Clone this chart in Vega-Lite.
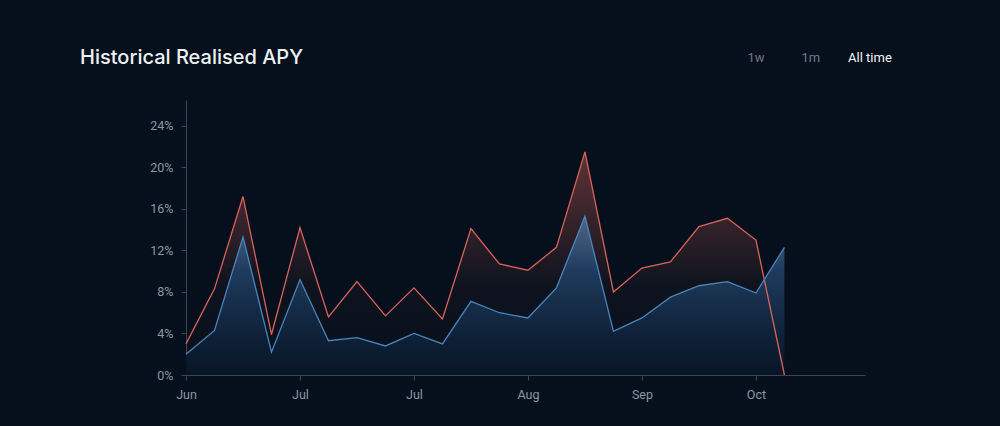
{
  "$schema": "https://vega.github.io/schema/vega-lite/v6.json",
  "width": 679,
  "height": 275,
  "autosize": "none",
  "padding": {"left": 186, "top": 100, "right": 135, "bottom": 51},
  "background": "#06101c",
  "config": {"view": {"stroke": null}, "font": "Roboto"},
  "title": {
    "text": "Historical Realised APY",
    "anchor": "start",
    "frame": "group",
    "color": "#eef0f3",
    "font": "Inter",
    "fontSize": 20,
    "fontWeight": 500,
    "dx": -106,
    "offset": 0,
    "dy": 32,
    "baseline": "alphabetic"
  },
  "datasets": {
    "apy": [
      {"date": "2023-06-03", "series": "Projected", "apy": 3.0},
      {"date": "2023-06-10", "series": "Projected", "apy": 8.3},
      {"date": "2023-06-17", "series": "Projected", "apy": 17.2},
      {"date": "2023-06-24", "series": "Projected", "apy": 3.9},
      {"date": "2023-07-01", "series": "Projected", "apy": 14.2},
      {"date": "2023-07-08", "series": "Projected", "apy": 5.6},
      {"date": "2023-07-15", "series": "Projected", "apy": 9.0},
      {"date": "2023-07-22", "series": "Projected", "apy": 5.7},
      {"date": "2023-07-29", "series": "Projected", "apy": 8.4},
      {"date": "2023-08-05", "series": "Projected", "apy": 5.4},
      {"date": "2023-08-12", "series": "Projected", "apy": 14.1},
      {"date": "2023-08-19", "series": "Projected", "apy": 10.7},
      {"date": "2023-08-26", "series": "Projected", "apy": 10.1},
      {"date": "2023-09-02", "series": "Projected", "apy": 12.3},
      {"date": "2023-09-09", "series": "Projected", "apy": 21.5},
      {"date": "2023-09-16", "series": "Projected", "apy": 8.0},
      {"date": "2023-09-23", "series": "Projected", "apy": 10.3},
      {"date": "2023-09-30", "series": "Projected", "apy": 10.9},
      {"date": "2023-10-07", "series": "Projected", "apy": 14.3},
      {"date": "2023-10-14", "series": "Projected", "apy": 15.1},
      {"date": "2023-10-21", "series": "Projected", "apy": 13.0},
      {"date": "2023-10-28", "series": "Projected", "apy": 0.0},
      {"date": "2023-06-03", "series": "Realised", "apy": 2.0},
      {"date": "2023-06-10", "series": "Realised", "apy": 4.3},
      {"date": "2023-06-17", "series": "Realised", "apy": 13.3},
      {"date": "2023-06-24", "series": "Realised", "apy": 2.2},
      {"date": "2023-07-01", "series": "Realised", "apy": 9.2},
      {"date": "2023-07-08", "series": "Realised", "apy": 3.3},
      {"date": "2023-07-15", "series": "Realised", "apy": 3.6},
      {"date": "2023-07-22", "series": "Realised", "apy": 2.8},
      {"date": "2023-07-29", "series": "Realised", "apy": 4.0},
      {"date": "2023-08-05", "series": "Realised", "apy": 3.0},
      {"date": "2023-08-12", "series": "Realised", "apy": 7.1},
      {"date": "2023-08-19", "series": "Realised", "apy": 6.0},
      {"date": "2023-08-26", "series": "Realised", "apy": 5.5},
      {"date": "2023-09-02", "series": "Realised", "apy": 8.4},
      {"date": "2023-09-09", "series": "Realised", "apy": 15.3},
      {"date": "2023-09-16", "series": "Realised", "apy": 4.2},
      {"date": "2023-09-23", "series": "Realised", "apy": 5.5},
      {"date": "2023-09-30", "series": "Realised", "apy": 7.5},
      {"date": "2023-10-07", "series": "Realised", "apy": 8.6},
      {"date": "2023-10-14", "series": "Realised", "apy": 9.0},
      {"date": "2023-10-21", "series": "Realised", "apy": 7.9},
      {"date": "2023-10-28", "series": "Realised", "apy": 12.3}
    ],
    "ranges": [
      {"label": "1w", "date": "2023-10-21"},
      {"label": "1m", "date": "2023-11-03T12:00:00Z"},
      {"label": "All time", "date": "2023-11-18"}
    ]
  },
  "encoding": {
    "x": {
      "field": "date",
      "type": "temporal",
      "scale": {
        "type": "utc",
        "domain": [
          {"year": 2023, "month": 6, "date": 3, "utc": true},
          {"year": 2023, "month": 11, "date": 16, "hours": 19, "utc": true}
        ]
      },
      "axis": {
        "title": null,
        "grid": false,
        "format": "%b",
        "values": [
          {"year": 2023, "month": 6, "date": 3, "utc": true},
          {"year": 2023, "month": 7, "date": 1, "utc": true},
          {"year": 2023, "month": 7, "date": 29, "utc": true},
          {"year": 2023, "month": 8, "date": 26, "utc": true},
          {"year": 2023, "month": 9, "date": 23, "utc": true},
          {"year": 2023, "month": 10, "date": 21, "utc": true}
        ],
        "domainColor": "#3a4656",
        "tickColor": "#3a4656",
        "tickSize": 5,
        "labelColor": "#8c97a4",
        "labelFontSize": 12.5,
        "labelFont": "Roboto",
        "labelPadding": 8,
        "labelFlush": false
      }
    }
  },
  "layer": [
    {
      "data": {"name": "apy"},
      "transform": [{"filter": "datum.series === 'Projected'"}],
      "mark": {
        "type": "area",
        "color": {
          "gradient": "linear",
          "x1": 0, "y1": 0, "x2": 0, "y2": 1,
          "stops": [
            {"offset": 0, "color": "rgba(217,98,90,0.42)"},
            {"offset": 0.6, "color": "rgba(217,98,90,0.04)"},
            {"offset": 1, "color": "rgba(217,98,90,0)"}
          ]
        }
      },
      "encoding": {
        "y": {
          "field": "apy",
          "type": "quantitative",
          "scale": {"domain": [0, 26.5], "nice": false},
          "axis": {
            "title": null,
            "grid": false,
            "values": [0, 4, 8, 12, 16, 20, 24],
            "labelExpr": "datum.value + '%'",
            "domainColor": "#3a4656",
            "tickColor": "#3a4656",
            "tickSize": 5,
            "labelColor": "#8c97a4",
            "labelFontSize": 12.5,
            "labelFont": "Roboto",
            "labelPadding": 8
          }
        }
      }
    },
    {
      "data": {"name": "apy"},
      "transform": [{"filter": "datum.series === 'Realised'"}],
      "mark": {
        "type": "area",
        "color": {
          "gradient": "linear",
          "x1": 0, "y1": 0, "x2": 0, "y2": 1,
          "stops": [
            {"offset": 0, "color": "#4f6788"},
            {"offset": 0.35, "color": "#1e3a5c"},
            {"offset": 0.7, "color": "#10243c"},
            {"offset": 1, "color": "#091525"}
          ]
        }
      },
      "encoding": {"y": {"field": "apy", "type": "quantitative"}}
    },
    {
      "data": {"name": "apy"},
      "transform": [{"filter": "datum.series === 'Projected'"}],
      "mark": {"type": "line", "color": "#d9625a", "strokeWidth": 1.3},
      "encoding": {"y": {"field": "apy", "type": "quantitative"}}
    },
    {
      "data": {"name": "apy"},
      "transform": [{"filter": "datum.series === 'Realised'"}],
      "mark": {"type": "line", "color": "#4a84bc", "strokeWidth": 1.3},
      "encoding": {"y": {"field": "apy", "type": "quantitative"}}
    },
    {
      "data": {"name": "ranges"},
      "mark": {"type": "text", "fontSize": 13, "font": "Roboto", "align": "center", "baseline": "middle"},
      "encoding": {
        "y": {"datum": 30.55, "type": "quantitative"},
        "color": {
          "condition": {"test": "datum.label === 'All time'", "value": "#f2f4f6"},
          "value": "#6c7886"
        },
        "fontWeight": {
          "condition": {"test": "datum.label === 'All time'", "value": 500},
          "value": 400
        },
        "text": {"field": "label", "type": "nominal"}
      }
    }
  ]
}
